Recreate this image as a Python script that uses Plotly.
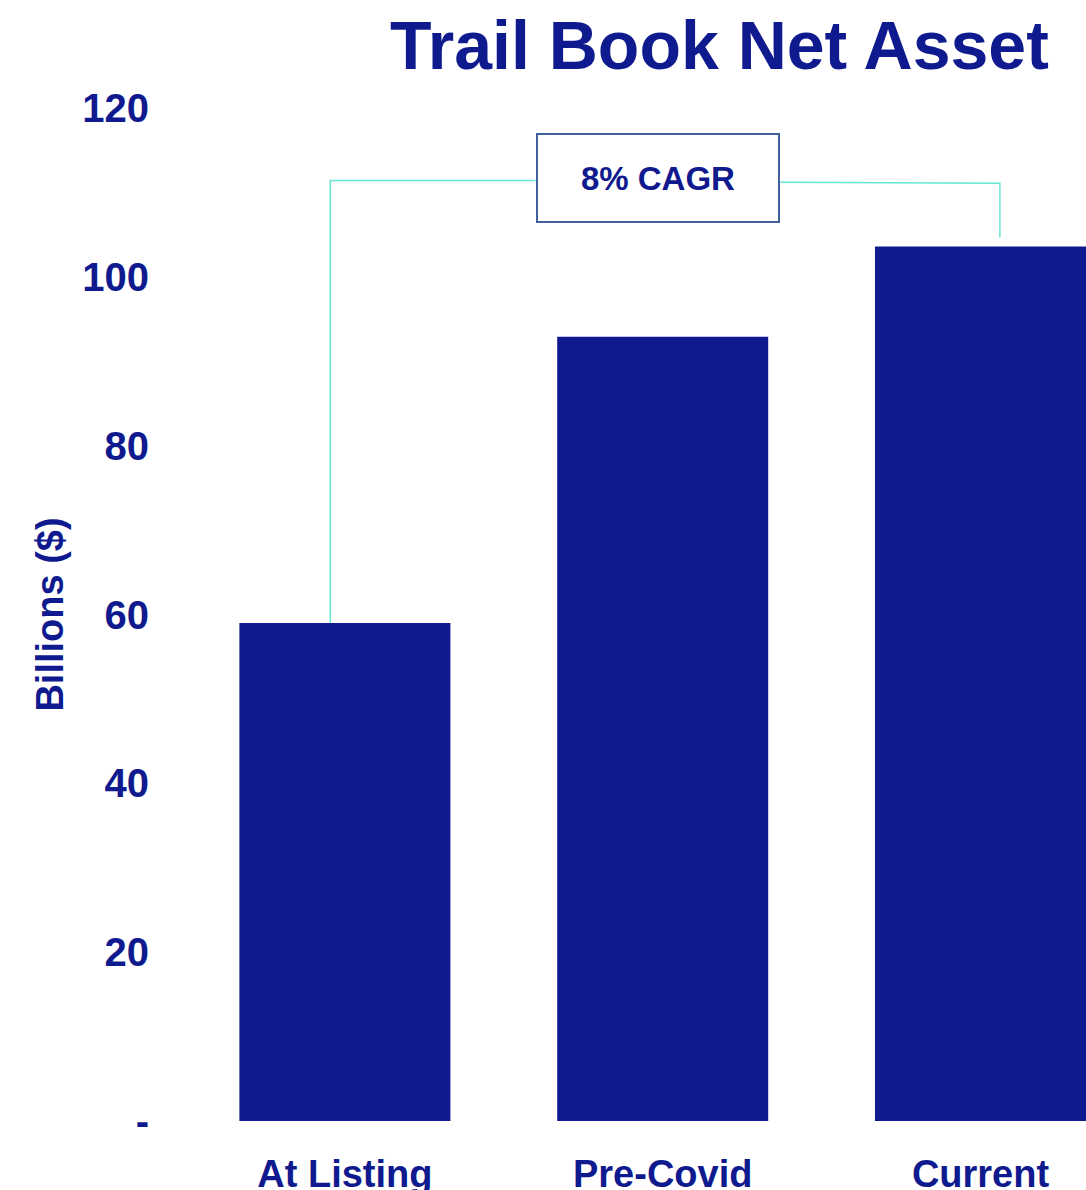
import plotly.graph_objects as go

# Net asset values of the trail book, in billions of dollars
categories = ["At Listing", "Pre-Covid", "Current"]
net_assets = [59.0, 92.9, 103.6]
y_tick_values = [0, 20, 40, 60, 80, 100, 120]
y_tick_labels = ["-", "20", "40", "60", "80", "100", "120"]
cagr_label = "8% CAGR"

NAVY = "#101A8F"
TEAL = "#66E6D4"
BOX_EDGE = "#41619A"
FONT = "Liberation Sans, Arial, sans-serif"

x_pos = list(range(len(categories)))

fig = go.Figure()
fig.add_trace(go.Bar(
    x=x_pos,
    y=net_assets,
    width=0.664,
    marker=dict(color=NAVY, line=dict(width=0)),
    hoverinfo="skip",
))

# CAGR bracket: rises from the first bar, runs across, drops toward the last bar
bracket_y = 111.4
left_x = x_pos[0] - 0.046
right_x = x_pos[-1] + 0.061
fig.add_trace(go.Scatter(
    x=[left_x, left_x, 0.6],
    y=[net_assets[0], bracket_y, bracket_y],
    mode="lines",
    line=dict(color=TEAL, width=1.5),
    hoverinfo="skip",
))
fig.add_trace(go.Scatter(
    x=[1.37, right_x, right_x],
    y=[bracket_y - 0.2, bracket_y - 0.3, net_assets[-1] + 1.1],
    mode="lines",
    line=dict(color=TEAL, width=1.5),
    hoverinfo="skip",
))

fig.add_annotation(
    x=0.986, y=111.7, xref="x", yref="y",
    text=f"<b>{cagr_label}</b>",
    showarrow=False,
    font=dict(family=FONT, size=33, color=NAVY),
    bgcolor="white",
    bordercolor=BOX_EDGE, borderwidth=2,
    width=238, height=84,
    align="center", valign="middle",
)

fig.add_annotation(
    x=0.593, y=1.062, xref="paper", yref="paper",
    text="<b>Trail Book Net Asset</b>",
    showarrow=False,
    xanchor="center", yanchor="middle",
    font=dict(family=FONT, size=68, color=NAVY),
)

fig.update_layout(
    width=1086, height=1190,
    margin=dict(l=185.5, r=0, t=108, b=69, pad=0),
    paper_bgcolor="white",
    plot_bgcolor="white",
    showlegend=False,
    font=dict(family=FONT, color=NAVY),
)
fig.update_xaxes(
    range=[-0.5, 2.332],
    tickvals=x_pos,
    ticktext=[f"<b>{c}</b>" for c in categories],
    tickfont=dict(family=FONT, size=38, color=NAVY),
    showgrid=False, zeroline=False, showline=False,
    ticks="", ticklabelstandoff=27,
    automargin=False,
    fixedrange=True,
)
fig.update_yaxes(
    range=[0, 120],
    tickvals=y_tick_values,
    ticktext=[f"<b>{t}</b>" for t in y_tick_labels],
    tickfont=dict(family=FONT, size=40, color=NAVY),
    showgrid=False, zeroline=False, showline=False,
    ticks="", ticklabelstandoff=36,
    title=dict(text="<b>Billions ($)</b>", font=dict(family=FONT, size=38, color=NAVY), standoff=6),
    automargin=False,
    fixedrange=True,
)

fig.write_html("out.html")
